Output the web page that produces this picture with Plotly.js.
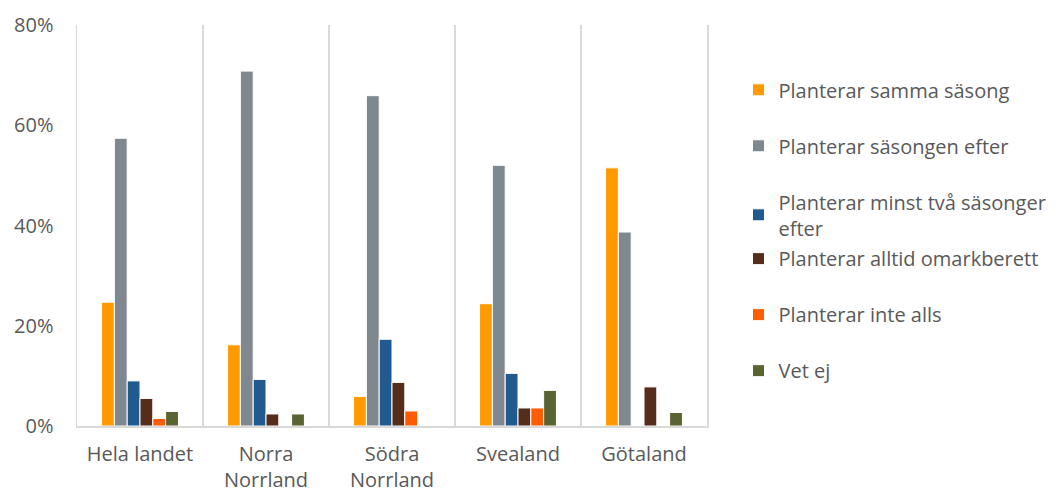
<!DOCTYPE html>
<html>
<head>
<meta charset="utf-8">
<script src="https://cdn.plot.ly/plotly-3.0.1.min.js"></script>
<style>html,body{margin:0;padding:0;background:#fff;}#chart{width:1063px;height:493px;}</style>
</head>
<body>
<div id="chart"></div>
<script>
const categories = ["Hela landet", "Norra<br>Norrland", "Södra<br>Norrland", "Svealand", "Götaland"];
const seriesNames = ["Planterar samma säsong", "Planterar säsongen efter", "Planterar minst två säsonger<br>efter", "Planterar alltid omarkberett", "Planterar inte alls", "Vet ej"];
const sammaSasong = [0.247, 0.162, 0.059, 0.244, 0.515];
const sasongenEfter = [0.574, 0.708, 0.659, 0.520, 0.387];
const minstTva = [0.090, 0.093, 0.173, 0.105, 0];
const omarkberett = [0.055, 0.024, 0.087, 0.036, 0.078];
const inteAlls = [0.015, 0, 0.030, 0.036, 0];
const vetEj = [0.029, 0.024, 0, 0.071, 0.027];
const colors = ["#FF9900", "#7F878F", "#215A8E", "#552D1A", "#FF5B00", "#5A6332"];

const values = [sammaSasong, sasongenEfter, minstTva, omarkberett, inteAlls, vetEj];
const traces = values.map((v, i) => ({
  type: "bar",
  x: categories,
  y: v,
  name: seriesNames[i],
  legendgroup: "g" + i,
  legend: i < 3 ? "legend" : "legend2",
  marker: {color: colors[i], line: {color: "#ffffff", width: 1}},
  hoverinfo: "y+name"
}));

const font = {family: "'Open Sans', Lato, sans-serif", size: 20, color: "#595959"};
const layout = {
  width: 1063, height: 493,
  margin: {l: 77, r: 348, t: 25, b: 67},
  paper_bgcolor: "#fff", plot_bgcolor: "#fff",
  font: font,
  barmode: "group",
  bargap: 0.39,
  bargroupgap: 0,
  showlegend: true,
  xaxis: {
    type: "category",
    tickson: "boundaries",
    showgrid: true, gridcolor: "#D9D9D9", gridwidth: 1.5,
    showline: true, linecolor: "#D9D9D9", linewidth: 1.5,
    ticks: "", ticklabelstandoff: 9, tickfont: font, fixedrange: true
  },
  yaxis: {
    range: [0, 0.8], dtick: 0.2, tickformat: ".0%",
    showgrid: false, zeroline: false,
    showline: true, mirror: true, linecolor: "#D9D9D9", linewidth: 1.5,
    ticks: "", ticklabelstandoff: 18, tickfont: font, fixedrange: true
  },
  legend: {
    x: 1.05, xanchor: "left", y: 0.887, yanchor: "top",
    traceorder: "grouped", tracegroupgap: 27,
    font: font, bgcolor: "rgba(0,0,0,0)"
  },
  legend2: {
    x: 1.05, xanchor: "left", y: 0.466, yanchor: "top",
    traceorder: "grouped", tracegroupgap: 27,
    font: font, bgcolor: "rgba(0,0,0,0)"
  }
};

Plotly.newPlot("chart", traces, layout, {displayModeBar: false, staticPlot: true});
</script>
</body>
</html>
